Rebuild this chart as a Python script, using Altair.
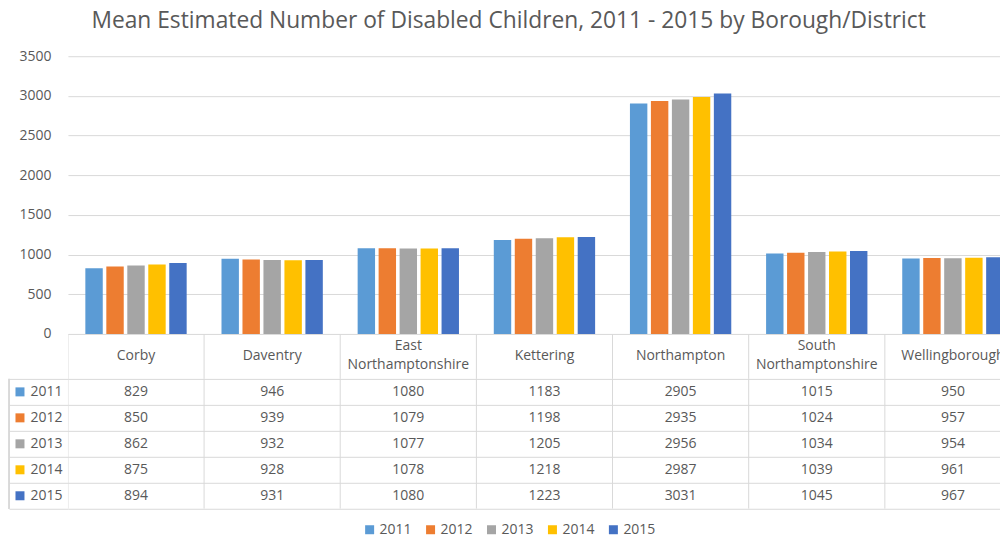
import altair as alt
import pandas as pd

districts = ["Corby", "Daventry", "East Northamptonshire", "Kettering",
             "Northampton", "South Northamptonshire", "Wellingborough"]
years = ["2011", "2012", "2013", "2014", "2015"]
v2011 = [829, 946, 1080, 1183, 2905, 1015, 950]
v2012 = [850, 939, 1079, 1198, 2935, 1024, 957]
v2013 = [862, 932, 1077, 1205, 2956, 1034, 954]
v2014 = [875, 928, 1078, 1218, 2987, 1039, 961]
v2015 = [894, 931, 1080, 1223, 3031, 1045, 967]
colors = ["#5B9BD5", "#ED7D31", "#A5A5A5", "#FFC000", "#4472C4"]
title_text = "Mean Estimated Number of Disabled Children, 2011 - 2015 by Borough/District"

series = [v2011, v2012, v2013, v2014, v2015]
rows = []
for y, vals in zip(years, series):
    for d, v in zip(districts, vals):
        rows.append({"district": d, "year": y, "value": v})
df = pd.DataFrame(rows)
yr_df = pd.DataFrame({"year": years, "col": colors})
dist_df = pd.DataFrame({"district": districts})

FONT = "Open Sans"
GRAY = "#595959"
LINE = "#D9D9D9"
W = 933          # visible plot width (67 -> 1000)
FULL = 954       # full band range (7 bands, last one cut by the frame)
FS = 14

xscale = alt.Scale(domain=districts, range=[0, FULL], paddingInner=0, paddingOuter=0)
cscale = alt.Scale(domain=years, range=colors)
yrscale = alt.Scale(domain=years, paddingInner=0, paddingOuter=0)

legend = alt.Legend(orient="none", direction="horizontal", title=None,
                    legendX=295, legendY=467, symbolType="square",
                    symbolSize=81, symbolStrokeWidth=0, labelFontSize=FS,
                    labelColor=GRAY, labelFont=FONT, columnPadding=11,
                    labelOffset=3)

# ---- bar panel ----
bars = alt.Chart(df).mark_bar(clip=True).encode(
    x=alt.X("district:N", scale=xscale, sort=districts, axis=None),
    xOffset=alt.XOffset("year:N", scale=alt.Scale(paddingInner=0.17, paddingOuter=0.83)),
    y=alt.Y("value:Q", scale=alt.Scale(domain=[0, 3500], nice=False), title=None,
            axis=alt.Axis(values=list(range(0, 3501, 500)), format="d", domain=False,
                          ticks=False, grid=True, gridColor=LINE, labelPadding=17,
                          labelFontSize=FS, labelColor=GRAY, labelFont=FONT)),
    color=alt.Color("year:N", scale=cscale, legend=legend),
).properties(width=W, height=278)

# ---- header row with category names ----
head_lines = alt.Chart(dist_df).mark_rule(color=LINE, clip=True).encode(
    x=alt.X("district:N", scale=xscale, sort=districts, axis=None, bandPosition=0),
    y=alt.value(0), y2=alt.value(45),
)
head_one = alt.Chart(dist_df).transform_filter(
    "indexof(datum.district, ' ') < 0"
).mark_text(fontSize=FS, color=GRAY, font=FONT, baseline="middle", clip=True).encode(
    x=alt.X("district:N", scale=xscale, sort=districts, axis=None),
    y=alt.value(22),
    text="district:N",
)
head_two = alt.Chart(dist_df).transform_filter(
    "indexof(datum.district, ' ') >= 0"
).mark_text(fontSize=FS, color=GRAY, font=FONT, baseline="middle", lineBreak=" ",
            lineHeight=19, clip=True).encode(
    x=alt.X("district:N", scale=xscale, sort=districts, axis=None),
    y=alt.value(12.5),
    text="district:N",
)
header = alt.layer(head_lines, head_one, head_two).properties(width=W, height=45)

# ---- data table ----
tab_lines = alt.Chart(dist_df).mark_rule(color=LINE, clip=True).encode(
    x=alt.X("district:N", scale=xscale, sort=districts, axis=None, bandPosition=0),
    y=alt.value(0), y2=alt.value(130),
)
tab_text = alt.Chart(df).mark_text(fontSize=FS, color=GRAY, font=FONT, clip=True).encode(
    x=alt.X("district:N", scale=xscale, sort=districts, axis=None),
    y=alt.Y("year:N", scale=yrscale, title=None,
            axis=alt.Axis(domain=False, ticks=True, tickBand="extent", tickSize=59,
                          tickColor=LINE, grid=True, gridColor=LINE, labelPadding=-53,
                          labelFontSize=FS, labelColor=GRAY, labelFont=FONT)),
    text="value:Q",
)
squares = alt.Chart(yr_df).mark_square(size=81, opacity=1).encode(
    x=alt.value(-48),
    y=alt.Y("year:N", scale=yrscale),
    color=alt.Color("col:N", scale=None),
)
border = alt.Chart(yr_df).mark_rule(color=LINE).encode(
    x=alt.value(-59), y=alt.value(0), y2=alt.value(130)
)
table = alt.layer(tab_lines, tab_text, squares, border).properties(width=W, height=130)

chart = alt.vconcat(bars, header, table, spacing=0, bounds="flush").properties(
    title=alt.TitleParams(title_text, anchor="start", dx=83, fontSize=22.8,
                          font=FONT, fontWeight="normal", color=GRAY, offset=16),
    padding={"left": 8, "top": 10, "right": 0, "bottom": 0},
).configure_view(stroke=None)

chart.save("out.html", embed_options={"renderer": "svg", "actions": False})
